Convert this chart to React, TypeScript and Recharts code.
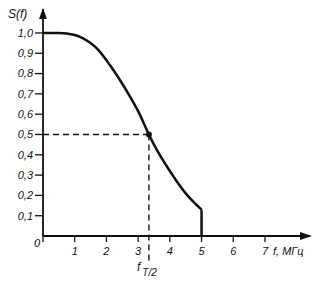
import { LineChart, Line, XAxis, YAxis, ReferenceLine, ReferenceDot } from "recharts"

// spectrum S(f)
const freq = [0, 0.5, 1, 1.25, 1.5, 1.75, 2, 2.25, 2.5, 2.75, 3, 3.34, 3.5, 4, 4.5, 5]
const spectrum = [1.0, 1.0, 0.99, 0.975, 0.95, 0.915, 0.865, 0.81, 0.75, 0.685, 0.615, 0.5, 0.45, 0.32, 0.21, 0.13]
const cutoffFreq = [5, 5]
const cutoffLevel = [0.13, 0]
const xTicks = [0, 1, 2, 3, 4, 5, 6, 7]
const yTicks = [0.1, 0.2, 0.3, 0.4, 0.5, 0.6, 0.7, 0.8, 0.9, 1.0]
const halfFreq = 3.34
const halfLevel = 0.5
const xMax = 8.42
const yMax = 1.118

const curve = freq.map((f, i) => ({ f, s: spectrum[i] }))
const drop = cutoffFreq.map((f, i) => ({ f, s: cutoffLevel[i] }))

const font = "'Liberation Sans', Arial, sans-serif"

const XTick = (props: any) => {
  const { x, y, payload } = props
  if (payload.value === 0) {
    return (
      <text x={x - 3} y={y + 5} textAnchor="end" fontSize={11} fontStyle="italic" fontFamily={font} fill="#111">
        0
      </text>
    )
  }
  return (
    <text x={x} y={y + 13} textAnchor="middle" fontSize={11} fontStyle="italic" fontFamily={font} fill="#111">
      {payload.value}
    </text>
  )
}

const YTick = (props: any) => {
  const { x, y, payload } = props
  return (
    <text x={x} y={y} dy="0.355em" textAnchor="end" fontSize={11} fontStyle="italic" fontFamily={font} fill="#111">
      {payload.value.toFixed(1).replace(".", ",")}
    </text>
  )
}

const XArrow = (props: any) => (
  <polygon points={`${props.cx + 2},${props.cy} ${props.cx - 10},${props.cy - 4} ${props.cx - 10},${props.cy + 4}`} fill="#111" />
)

const YArrow = (props: any) => (
  <polygon points={`${props.cx},${props.cy - 1} ${props.cx - 4},${props.cy + 10} ${props.cx + 4},${props.cy + 10}`} fill="#111" />
)

export default function App() {
  return (
    <div style={{ width: 326, height: 283, background: "#fff" }}>
      <style>{"body{margin:0}"}</style>
      <LineChart width={326} height={283} margin={{ top: 9, right: 16, bottom: 0, left: 0 }}>
        <XAxis
          type="number"
          dataKey="f"
          domain={[0, xMax]}
          ticks={xTicks}
          interval={0}
          height={47}
          tickSize={6}
          tickMargin={0}
          tick={XTick}
          axisLine={{ stroke: "#111", strokeWidth: 1.8 }}
          tickLine={{ stroke: "#111", strokeWidth: 1.3 }}
          allowDataOverflow
        />
        <YAxis
          type="number"
          dataKey="s"
          domain={[0, yMax]}
          ticks={yTicks}
          interval={0}
          width={43}
          tickSize={8}
          tickMargin={2}
          tick={YTick}
          axisLine={{ stroke: "#111", strokeWidth: 1.8 }}
          tickLine={{ stroke: "#111", strokeWidth: 1.3 }}
          allowDataOverflow
        />
        <ReferenceLine
          segment={[{ x: 0, y: halfLevel }, { x: halfFreq, y: halfLevel }]}
          stroke="#111"
          strokeWidth={1.4}
          strokeDasharray="6 4"
          ifOverflow="visible"
        />
        <ReferenceLine
          segment={[{ x: halfFreq, y: halfLevel }, { x: halfFreq, y: -0.13 }]}
          stroke="#111"
          strokeWidth={1.4}
          strokeDasharray="6 4"
          ifOverflow="visible"
        />
        <Line data={curve} dataKey="s" type="monotone" stroke="#111" strokeWidth={2.5} dot={false} isAnimationActive={false} />
        <Line data={drop} dataKey="s" type="linear" stroke="#111" strokeWidth={2.5} dot={false} isAnimationActive={false} />
        <ReferenceDot x={halfFreq} y={halfLevel} r={3} fill="#111" stroke="none" ifOverflow="visible" />
        <ReferenceDot x={xMax} y={0} shape={XArrow} ifOverflow="visible" />
        <ReferenceDot x={0} y={yMax} shape={YArrow} ifOverflow="visible" />
        <text x={8} y={18} fontSize={12} fontStyle="italic" fontFamily={font} fill="#111">
          S(f)
        </text>
        <text x={273} y={255} fontSize={11} fontStyle="italic" fontFamily={font} fill="#111">
          f, МГц
        </text>
        <text x={137} y={271} fontSize={12} fontStyle="italic" fontFamily={font} fill="#111">
          f
          <tspan dx={2} dy={5} fontSize={10}>
            T/2
          </tspan>
        </text>
      </LineChart>
    </div>
  )
}
